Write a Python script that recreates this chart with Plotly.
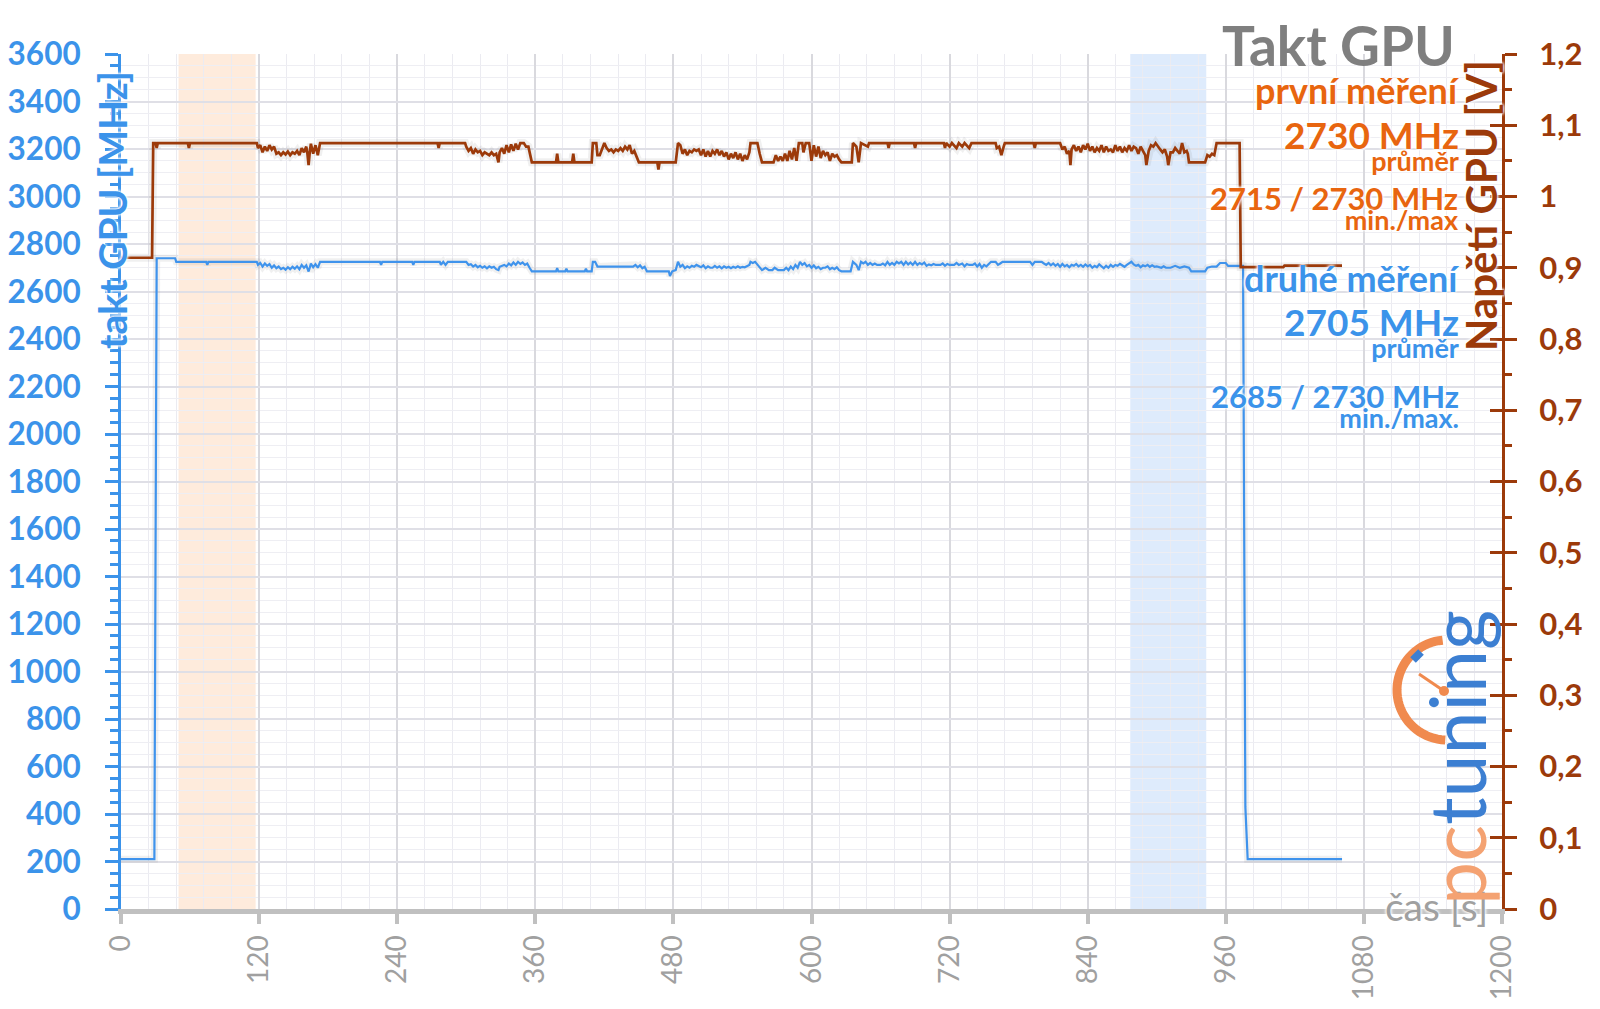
import numpy as np
import plotly.graph_objects as go

# ---------------- data ----------------
# GPU voltage (first trace, brown), time [s] / value [V]
volt_t = [0, 27, 28, 30, 31, 32, 58, 59, 60, 118,
          119, 121, 123, 125, 127, 129, 131, 133, 135, 137, 139, 141, 143, 145, 147, 149, 151, 153, 155, 157,
          159, 161, 162, 163, 164, 165, 167, 169, 171, 173,
          275, 276, 277, 299,
          300, 302, 304, 306, 308, 310, 312, 314, 316, 318, 320, 322, 324, 326, 328, 329, 331, 333, 335, 337,
          339, 341, 343, 345, 347, 350, 352, 354, 357,
          378, 379, 380, 392, 393, 394, 409, 410, 413, 414, 416, 420,
          422, 424, 426, 428, 430, 432, 434, 436, 438, 440, 442, 444, 446, 448, 450, 466, 467, 468, 482, 484,
          486, 488, 490, 492, 494, 496, 498, 500, 502, 504, 506, 508, 510, 512, 514, 516, 518, 520, 522, 524,
          526, 528, 530, 532, 534, 536, 538, 540, 542, 544, 546, 547, 553, 555, 557, 567, 569, 571, 573, 575,
          577, 579, 581, 583, 585, 587, 589, 592, 593, 595, 598, 600, 602, 604, 606, 608, 610, 612, 614, 616,
          618, 620, 622, 624, 626, 635, 636, 639, 641, 643,
          649, 650, 666, 667, 668, 689, 690, 691, 715, 716, 717, 720, 722, 726, 728, 731, 733, 737, 739,
          760, 761, 763, 765, 767, 768, 793, 794, 795,
          816, 818, 820, 822, 824, 825, 826, 828, 830, 832, 834, 836, 838, 840, 842, 844, 846, 848, 850, 852,
          854, 856, 858, 860, 862, 864, 866, 868, 870, 872, 874, 876, 878, 880, 882, 884, 886, 888, 890, 891,
          893, 895, 897, 899, 901, 903, 905, 907, 909, 910, 912, 914, 916, 918, 920, 922, 924, 926, 927, 928,
          942, 944, 946, 948, 950, 952, 972, 973, 1010, 1011, 1061]
volt_v = [0.914, 0.914, 1.075, 1.075, 1.068, 1.075, 1.075, 1.068, 1.075, 1.075,
          1.068, 1.072, 1.062, 1.070, 1.064, 1.072, 1.066, 1.070, 1.060, 1.062, 1.058, 1.062, 1.059, 1.063, 1.058, 1.062, 1.060, 1.064, 1.058, 1.068,
          1.062, 1.070, 1.060, 1.044, 1.062, 1.074, 1.060, 1.072, 1.058, 1.075,
          1.075, 1.068, 1.075, 1.075,
          1.070, 1.064, 1.068, 1.060, 1.066, 1.062, 1.064, 1.058, 1.062, 1.060, 1.058, 1.062, 1.058, 1.060, 1.048, 1.062, 1.068, 1.060, 1.072, 1.062,
          1.073, 1.064, 1.074, 1.066, 1.075, 1.075, 1.070, 1.070, 1.048,
          1.048, 1.060, 1.048, 1.048, 1.060, 1.048, 1.048, 1.075, 1.075, 1.058, 1.058, 1.075,
          1.068, 1.064, 1.066, 1.062, 1.066, 1.064, 1.068, 1.064, 1.070, 1.066, 1.072, 1.060, 1.064, 1.055, 1.048, 1.048, 1.038, 1.048, 1.048, 1.075,
          1.072, 1.060, 1.066, 1.058, 1.064, 1.062, 1.066, 1.064, 1.066, 1.058, 1.066, 1.056, 1.064, 1.056, 1.064, 1.060, 1.066, 1.058, 1.064, 1.056,
          1.062, 1.052, 1.060, 1.054, 1.062, 1.052, 1.060, 1.050, 1.058, 1.052, 1.062, 1.075, 1.075, 1.060, 1.048, 1.048, 1.058, 1.050, 1.056, 1.050,
          1.060, 1.050, 1.064, 1.052, 1.068, 1.050, 1.075, 1.075, 1.062, 1.075, 1.075, 1.050, 1.072, 1.056, 1.070, 1.054, 1.064, 1.058, 1.062, 1.050,
          1.060, 1.056, 1.058, 1.052, 1.048, 1.048, 1.075, 1.070, 1.048, 1.075,
          1.070, 1.075, 1.075, 1.068, 1.075, 1.075, 1.068, 1.075, 1.075, 1.068, 1.075, 1.070, 1.075, 1.068, 1.075, 1.070, 1.075, 1.068, 1.075,
          1.075, 1.068, 1.070, 1.058, 1.070, 1.075, 1.075, 1.068, 1.075,
          1.075, 1.066, 1.070, 1.060, 1.064, 1.044, 1.066, 1.072, 1.064, 1.070, 1.062, 1.072, 1.066, 1.074, 1.064, 1.070, 1.062, 1.068, 1.064, 1.072,
          1.062, 1.070, 1.064, 1.066, 1.062, 1.072, 1.064, 1.070, 1.062, 1.068, 1.064, 1.072, 1.064, 1.070, 1.068, 1.060, 1.070, 1.064, 1.058, 1.044,
          1.064, 1.072, 1.070, 1.075, 1.070, 1.066, 1.062, 1.066, 1.056, 1.044, 1.062, 1.062, 1.068, 1.064, 1.060, 1.075, 1.062, 1.064, 1.060, 1.048,
          1.048, 1.058, 1.056, 1.060, 1.058, 1.075, 1.075, 0.901, 0.901, 0.903, 0.903]

# GPU clock (second trace, blue), time [s] / value [MHz]
clock_t = [0, 29, 31, 47, 48, 74, 75, 76, 118,
           119, 121, 123, 125, 127, 129, 131, 133, 135, 137, 139, 141, 143, 145, 147, 149, 151, 153, 155, 157,
           159, 161, 163, 164, 165, 167, 169, 171, 173,
           225, 226, 227, 253, 254, 255, 277, 278, 280, 282, 284, 300,
           302, 304, 306, 308, 310, 312, 314, 316, 318, 320, 322, 324, 326, 328, 329, 331, 333, 335, 337, 339,
           341, 343, 345, 347, 349, 351, 353, 355, 357,
           378, 379, 380, 386, 387, 388, 403, 404, 405, 409, 410, 412, 414,
           445, 447, 449, 451, 453, 455, 457, 476, 477, 479, 482, 484, 486, 488, 490, 492, 494, 496, 498, 500,
           502, 504, 506, 508, 510, 512, 514, 516, 518, 520, 522, 524, 526, 528, 530, 532, 534, 536, 538, 540,
           542, 544, 546, 547, 549, 551, 553, 555, 557, 560, 563, 566, 568, 571, 576, 578, 580, 582, 584, 586,
           588, 590, 592, 594, 596, 598, 600, 602, 604, 606, 608, 610, 612, 614, 616, 618, 620, 622, 624, 626,
           634, 636, 639, 641, 643,
           645, 647, 649, 651, 653, 655, 657, 660, 662, 664, 666, 668, 670, 672, 674, 676, 678, 680, 682, 684,
           686, 688, 690, 692, 694, 696, 698, 700, 702, 704, 706, 708, 712, 714, 716, 718, 720, 724, 726, 728,
           731, 733, 735, 737, 740, 742, 744, 746, 748, 750, 752, 754, 756, 760, 762, 764, 766, 790, 792, 794,
           800, 802, 804, 806, 808, 810, 812, 814, 816, 818, 820, 822, 824, 826, 828, 830, 832, 834, 836, 838,
           840, 842, 844, 846, 848, 850, 852, 854, 856, 858, 860, 862, 864, 866, 868, 870, 872, 874, 876, 878,
           880, 882, 884, 886, 888, 890, 892, 894, 896, 898, 900, 902, 904, 906, 908, 912, 916, 920, 924, 928,
           930, 942, 944, 948, 952, 955, 960, 962, 975, 977, 979, 1061]
clock_f = [210, 210, 2740, 2740, 2725, 2725, 2712, 2725, 2725,
           2712, 2720, 2705, 2718, 2708, 2715, 2700, 2710, 2698, 2705, 2694, 2700, 2692, 2702, 2694, 2704, 2696, 2706, 2694, 2712,
           2700, 2710, 2684, 2700, 2718, 2702, 2715, 2700, 2725,
           2725, 2712, 2725, 2725, 2712, 2725, 2725, 2712, 2725, 2712, 2725, 2725,
           2712, 2715, 2705, 2712, 2702, 2708, 2700, 2706, 2698, 2706, 2700, 2704, 2694, 2690, 2704, 2708, 2712, 2706, 2718, 2710,
           2722, 2712, 2725, 2716, 2722, 2712, 2718, 2700, 2685,
           2685, 2698, 2685, 2685, 2696, 2685, 2685, 2696, 2685, 2685, 2725, 2725, 2705,
           2705, 2712, 2702, 2710, 2698, 2704, 2685, 2685, 2665, 2685, 2690, 2725, 2704, 2712, 2698, 2706, 2700, 2708, 2704, 2712,
           2708, 2702, 2710, 2698, 2706, 2700, 2700, 2708, 2700, 2706, 2698, 2706, 2700, 2704, 2698, 2704, 2700, 2706, 2700, 2704,
           2702, 2708, 2712, 2725, 2720, 2725, 2712, 2700, 2690, 2700, 2690, 2690, 2700, 2690, 2690, 2700, 2690, 2705, 2694, 2712,
           2700, 2725, 2712, 2720, 2706, 2712, 2700, 2710, 2698, 2704, 2694, 2700, 2700, 2706, 2694, 2700, 2694, 2702, 2690, 2685,
           2685, 2725, 2712, 2690, 2725,
           2718, 2725, 2712, 2720, 2712, 2718, 2712, 2712, 2718, 2710, 2725, 2712, 2720, 2712, 2725, 2718, 2725, 2712, 2725, 2714,
           2722, 2712, 2725, 2712, 2720, 2714, 2722, 2708, 2714, 2710, 2716, 2712, 2712, 2718, 2708, 2716, 2712, 2712, 2720, 2712,
           2718, 2706, 2716, 2712, 2712, 2718, 2705, 2716, 2700, 2712, 2706, 2718, 2725, 2725, 2712, 2718, 2725, 2725, 2712, 2725,
           2725, 2718, 2712, 2720, 2710, 2718, 2708, 2716, 2704, 2716, 2706, 2712, 2702, 2712, 2708, 2716, 2706, 2712, 2704, 2714,
           2706, 2712, 2700, 2708, 2702, 2714, 2706, 2698, 2708, 2700, 2712, 2704, 2712, 2708, 2716, 2710, 2704, 2712, 2718, 2725,
           2714, 2708, 2712, 2702, 2710, 2706, 2712, 2704, 2710, 2704, 2706, 2704, 2700, 2706, 2700, 2700, 2708, 2700, 2706, 2700,
           2685, 2685, 2700, 2705, 2705, 2720, 2720, 2708, 2708, 430, 210, 210]

# highlighted time windows [s]
band_orange = [50, 117]
band_blue = [877, 943]

# axis ticks
x_ticks = [0, 120, 240, 360, 480, 600, 720, 840, 960, 1080, 1200]
y_ticks = list(range(0, 3601, 200))
v_ticks = [0, 0.1, 0.2, 0.3, 0.4, 0.5, 0.6, 0.7, 0.8, 0.9, 1.0, 1.1, 1.2]
v_ticktext = ["0", "0,1", "0,2", "0,3", "0,4", "0,5", "0,6", "0,7", "0,8", "0,9", "1", "1,1", "1,2"]

# texts
title_text = "Takt GPU"
run1_head, run1_avg, run1_avg_lbl, run1_mm, run1_mm_lbl = "první měření", "2730 MHz", "průměr", "2715 / 2730 MHz", "min./max"
run2_head, run2_avg, run2_avg_lbl, run2_mm, run2_mm_lbl = "druhé měření", "2705 MHz", "průměr", "2685 / 2730 MHz", "min./max."

# ---------------- style ----------------
FONT = "Lato"
BLUE = "#3b93ea"
BLUE_LINE = "#3f93ec"
ORANGE = "#e8650f"
BROWN = "#9c3a0a"
GRAY = "#7f7f7f"
W, H = 1600, 1009
OFF = 8                      # page body margin of the html page
X0, X1, Y0, Y1 = 121, 1502, 54, 909   # target plot box on screen
L, T = X0 - OFF, Y0 - OFF
R, B = W - (X1 - OFF), H - (Y1 - OFF)


def px(xs):
    return (xs - X0) / (X1 - X0)


def py(ys):
    return (Y1 - ys) / (Y1 - Y0)


fig = go.Figure()

# soft shadows under the lines
fig.add_trace(go.Scatter(x=clock_t, y=clock_f, mode="lines",
                         line=dict(color="rgba(110,110,110,0.10)", width=7), hoverinfo="skip", showlegend=False))
fig.add_trace(go.Scatter(x=volt_t, y=volt_v, mode="lines", yaxis="y2",
                         line=dict(color="rgba(110,110,110,0.10)", width=8), hoverinfo="skip", showlegend=False))
fig.add_trace(go.Scatter(x=clock_t, y=clock_f, mode="lines",
                         line=dict(color=BLUE_LINE, width=2.2), hoverinfo="skip", showlegend=False))
fig.add_trace(go.Scatter(x=volt_t, y=volt_v, mode="lines", yaxis="y2",
                         line=dict(color=BROWN, width=2.7), hoverinfo="skip", showlegend=False))
fig.add_trace(go.Scatter(x=volt_t, y=volt_v, mode="lines", yaxis="y3", opacity=0,
                         line=dict(color=BROWN, width=1), hoverinfo="skip", showlegend=False))

# highlighted bands
fig.add_vrect(x0=band_orange[0], x1=band_orange[1], fillcolor="#fde4d0", opacity=0.75,
              line_width=0, layer="below")
fig.add_vrect(x0=band_blue[0], x1=band_blue[1], fillcolor="#d6e6fb", opacity=0.8,
              line_width=0, layer="below")

fig.update_layout(
    width=W, height=H,
    margin=dict(l=L, r=R, t=T, b=B, autoexpand=False),
    paper_bgcolor="white", plot_bgcolor="white",
    font=dict(family=FONT),
    showlegend=False,
    xaxis=dict(range=[0, 1200], tickvals=x_ticks, tickangle=-90, automargin=False,
               tickfont=dict(family=FONT, size=28, color="#a0a0a0"),
               showline=True, linecolor="#c0c0c0", linewidth=5,
               ticks="outside", ticklen=10, tickwidth=4, tickcolor="#c0c0c0",
               showgrid=True, gridcolor="#d9d9de", gridwidth=2,
               minor=dict(dtick=24, showgrid=True, gridcolor="#ebebf1", gridwidth=1),
               zeroline=False, fixedrange=True),
    yaxis=dict(range=[0, 3600], tickvals=y_ticks, automargin=False,
               tickfont=dict(family=FONT, size=31.5, color=BLUE, weight="bold"),
               showline=True, linecolor=BLUE, linewidth=3,
               ticks="outside", ticklen=13, tickwidth=3, tickcolor=BLUE,
               ticklabelstandoff=18,
               showgrid=True, gridcolor="#dfdfe6", gridwidth=1.5,
               minor=dict(dtick=50, ticks="outside", ticklen=8, tickwidth=3, tickcolor=BLUE,
                          showgrid=True, gridcolor="#eeeef3", gridwidth=1),
               zeroline=False, fixedrange=True),
    yaxis2=dict(range=[0, 1.2], overlaying="y", side="right", anchor="x", automargin=False,
                tickvals=v_ticks, ticktext=v_ticktext,
                tickfont=dict(family=FONT, size=31, color=BROWN, weight="bold"),
                showline=True, linecolor=BROWN, linewidth=3,
                ticks="outside", ticklen=12, tickwidth=3, tickcolor=BROWN,
                ticklabelstandoff=16,
                minor=dict(dtick=0.05, ticks="outside", ticklen=7, tickwidth=3, tickcolor=BROWN),
                showgrid=False, zeroline=False, fixedrange=True),
    yaxis3=dict(range=[0, 1.2], overlaying="y", side="right", anchor="x", automargin=False,
                tickvals=v_ticks, showticklabels=False,
                ticks="inside", ticklen=12, tickwidth=3, tickcolor=BROWN,
                showline=False, showgrid=False, zeroline=False, fixedrange=True),
)

halo = "0 0 3px white, 0 0 3px white, 0 0 4px white"


def two_line(big, small, big_size, small_size):
    return (f"<span style='font-size:{big_size}px'>{big}</span><br>"
            f"<span style='font-size:{small_size}px'>{small}</span>")


ann = []
ann.append(dict(text=title_text, x=px(1457), y=py(45), xref="paper", yref="paper",
                xanchor="right", yanchor="middle", showarrow=False,
                font=dict(family=FONT, size=55, color=GRAY, weight="bold")))

XR = px(1461)
blocks = [
    (run1_head, run1_avg, run1_avg_lbl, run1_mm, run1_mm_lbl, ORANGE, [90, 144, 208]),
    (run2_head, run2_avg, run2_avg_lbl, run2_mm, run2_mm_lbl, BLUE, [278, 331, 405]),
]
for head, avg, avg_lbl, mm, mm_lbl, col, ys in blocks:
    ann.append(dict(text=head, x=XR, y=py(ys[0]), xref="paper", yref="paper",
                    xanchor="right", yanchor="middle", showarrow=False,
                    font=dict(family=FONT, size=36, color=col, weight="bold", shadow=halo)))
    ann.append(dict(text=two_line(avg, avg_lbl, 37, 27), x=XR, y=py(ys[1]), xref="paper", yref="paper",
                    xanchor="right", yanchor="middle", align="right", showarrow=False,
                    font=dict(family=FONT, size=17, color=col, weight="bold", shadow=halo)))
    ann.append(dict(text=two_line(mm, mm_lbl, 31, 27), x=XR, y=py(ys[2]), xref="paper", yref="paper",
                    xanchor="right", yanchor="middle", align="right", showarrow=False,
                    font=dict(family=FONT, size=15, color=col, weight="bold", shadow=halo)))

# axis titles
ann.append(dict(text="takt GPU [MHz]", x=px(112), y=py(210), xref="paper", yref="paper",
                textangle=-90, xanchor="center", yanchor="middle", showarrow=False,
                font=dict(family=FONT, size=39, color=BLUE, weight="bold", shadow=halo)))
ann.append(dict(text="Napětí GPU [V]", x=px(1481), y=py(206), xref="paper", yref="paper",
                textangle=-90, xanchor="center", yanchor="middle", showarrow=False,
                font=dict(family=FONT, size=42, color=BROWN, weight="bold", shadow=halo)))
ann.append(dict(text="čas [s]", x=px(1490), y=py(906), xref="paper", yref="paper",
                xanchor="right", yanchor="middle", showarrow=False,
                font=dict(family=FONT, size=39, color="#a0a0a0", shadow=halo)))

# logo text
ann.append(dict(text="<span style='color:#f4a272'>pc</span><span style='color:#3c7fd2'>tuning</span>",
                x=px(1456), y=py(758), xref="paper", yref="paper", textangle=-90,
                xanchor="center", yanchor="middle", showarrow=False,
                font=dict(family=FONT, size=77)))
fig.update_layout(annotations=ann)

# logo gauge (decoration)
cx, cy, rr = 1447, 690, 50
ang = np.linspace(np.radians(95), np.radians(268), 40)
pts = [(px(cx + rr * np.cos(a)), py(cy - rr * np.sin(a))) for a in ang]
path = "M " + " L ".join(f"{a:.5f},{b:.5f}" for a, b in pts)
fig.add_shape(type="path", path=path, xref="paper", yref="paper",
              line=dict(color="#f08a4e", width=9), layer="above")
fig.add_shape(type="line", xref="paper", yref="paper", x0=px(1419), y0=py(674), x1=px(1444), y1=py(691),
              line=dict(color="#f08a4e", width=3), layer="above")
fig.add_shape(type="circle", xref="paper", yref="paper", x0=px(1439), y0=py(686), x1=px(1449), y1=py(696),
              fillcolor="#f08a4e", line=dict(width=0), layer="above")
fig.add_shape(type="line", xref="paper", yref="paper", x0=px(1413), y0=py(660), x1=px(1421), y1=py(652),
              line=dict(color="#3c7fd2", width=8), layer="above")

fig.write_html("out.html")
